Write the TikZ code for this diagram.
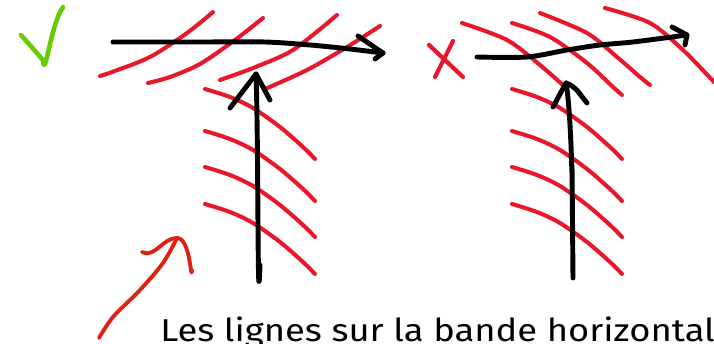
\documentclass[tikz,border=0pt]{standalone}
\usepackage{fontspec}
\setmainfont{Fira Sans}
\newfontfamily\capfont{Fira Sans}[FakeStretch=1.15]
\definecolor{redink}{RGB}{232,23,42}
\definecolor{arrowred}{RGB}{222,34,18}
\definecolor{okgreen}{RGB}{102,204,0}

\begin{document}
\begin{tikzpicture}[x=0.02cm, y=-0.02cm,
    hatch/.style={draw=redink, line width=2.3pt, line cap=round, line join=round},
    pen/.style={draw=black, line width=2.8pt, line cap=round, line join=round},
    tick/.style={draw=okgreen, line width=2.6pt, line cap=round, line join=round},
    lbl/.style={font=\capfont\fontsize{18}{20}\selectfont, anchor=base west, inner sep=0pt}
]
    \useasboundingbox (0,0) rectangle (714,344);
    \clip (0,0) rectangle (714,344);

    % vertical bands
    \foreach \x in {205,512} {
        \foreach \y in {89,131,167,204} {
            \draw[hatch] plot[smooth] coordinates {(\x,\y) (\x+25,\y+8) (\x+48,\y+19) (\x+75,\y+38) (\x+98,\y+58) (\x+110,\y+70)};
        }
    }

    % horizontal band, left
    \draw[hatch] plot[smooth] coordinates {(100,76) (112,72) (150,57) (187,33) (213,12)};
    \draw[hatch] plot[smooth] coordinates {(148,83) (170,77) (200,64) (235,40) (263,18)};
    \draw[hatch] plot[smooth] coordinates {(220,80) (253,68) (293,50) (337,15)};
    \draw[hatch] plot[smooth] coordinates {(265,89) (307,70) (347,47) (380,26)};

    % horizontal band, right
    \draw[hatch] plot[smooth] coordinates {(462,23) (507,40) (540,65) (565,87)};
    \draw[hatch] plot[smooth] coordinates {(512,23) (550,37) (587,63) (613,87) (622,95)};
    \draw[hatch] plot[smooth] coordinates {(540,13) (587,33) (617,57) (640,77) (650,85)};
    \draw[hatch] plot[smooth] coordinates {(605,8) (650,23) (683,50) (714,82)};

    % good: straight crossing
    \coordinate (lh) at (113,42);
    \coordinate (lht) at (383,53);
    \draw[pen] plot[smooth] coordinates {(lh) (200,42) (265,42) (310,45) (350,49) (lht)};
    \draw[pen] (358,36) -- (lht) -- (375,59);
    \coordinate (lv) at (260,265);
    \coordinate (lvt) at (256,74);
    \draw[pen] (lv) to[out=-92,in=-88] (lvt);
    \draw[pen] (230,108) -- (lvt) -- (270,100);

    % bad: wavy crossing
    \coordinate (rh) at (477,57);
    \coordinate (rht) at (687,35);
    \draw[pen] plot[smooth] coordinates {(rh) (527,57) (567,50) (600,45) (633,42) (rht)};
    \draw[pen] (672,27) -- (rht) -- (685,45);
    \coordinate (rv) at (573,278);
    \coordinate (rvt) at (566,83);
    \draw[pen] (rv) -- (572,165) to[out=-90,in=-80] (rvt);
    \draw[pen] (553,107) -- (rvt) to[out=-20,in=130] (587,103);

    % marks
    \draw[tick] (21,35) -- (43,60) to[out=-85,in=-125] (63,7);
    \draw[draw=redink, line width=2.4pt, line cap=round] (429,45) -- (463,77) (453,41) -- (435,77);

    % pointer to the caption
    \coordinate (ps) at (99,338);
    \coordinate (pt) at (177,238);
    \draw[draw=arrowred, line width=2.2pt, line cap=round, line join=round]
        plot[smooth] coordinates {(ps) (113,317) (140,290) (163,263) (pt)};
    \draw[draw=arrowred, line width=2.2pt, line cap=round, line join=round]
        (142,252) to[out=-25,in=180] (pt) to[out=0,in=-95] (192,270);

    \node[lbl] (cap) at (160,342) {Les lignes sur la bande horizontal};
\end{tikzpicture}
\end{document}
